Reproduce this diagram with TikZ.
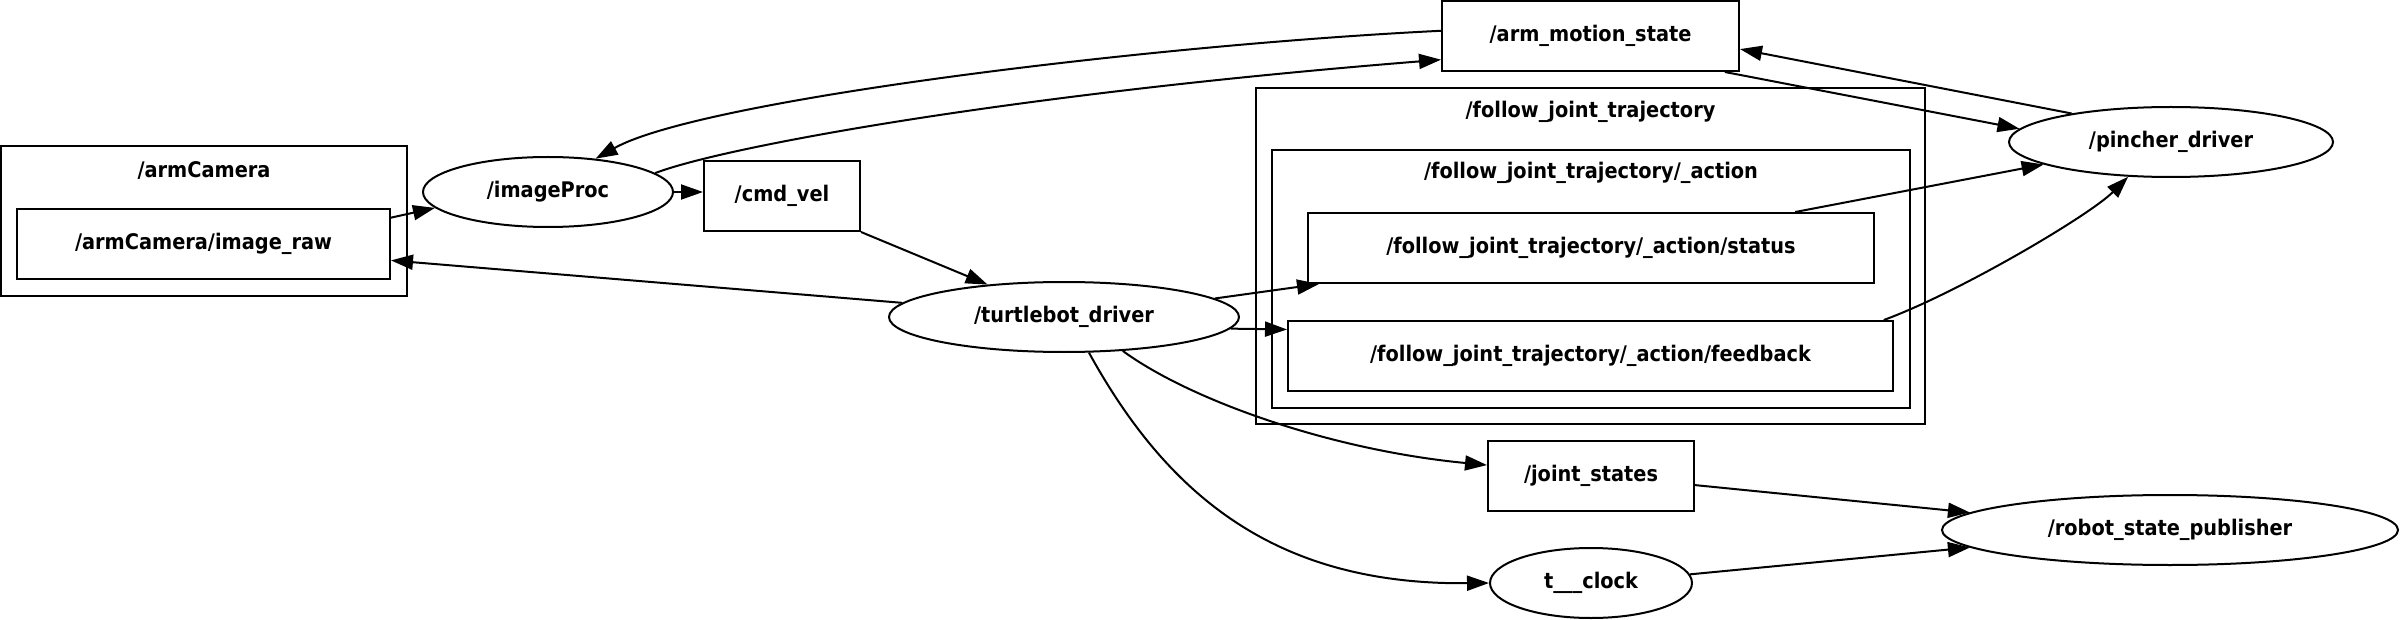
\documentclass[tikz,border=0pt]{standalone}
\usepackage{fontspec}
\setmainfont{DejaVu Sans Condensed}
\usetikzlibrary{shapes.geometric,arrows.meta,calc}
\tikzset{
  base/.style={draw=black, line width=2pt, inner sep=0pt, font=\fontsize{21.5}{25}\selectfont\bfseries},
  topic/.style={base, rectangle, minimum height=70pt},
  nodeel/.style={base, ellipse, minimum height=70pt},
  cluster/.style={draw=black, line width=2pt, rectangle, inner sep=0pt},
  clabel/.style={inner sep=0pt, font=\fontsize{21.5}{25}\selectfont\bfseries},
  edge/.style={draw=black, line width=2pt, -{Triangle[length=22pt,width=15pt]}}
}
\begin{document}
\begin{tikzpicture}[x=1pt,y=-1pt]
\useasboundingbox (0,0) rectangle (2400,620);
% clusters
\node[cluster, minimum width=406pt, minimum height=150pt] (camclu) at (204,221) {};
\node[clabel] (camlab) at (204,171) {/armCamera};
\node[cluster, minimum width=669pt, minimum height=336pt] (fjtclu) at (1590.5,256) {};
\node[clabel] (fjtlab) at (1590.5,112) {/follow\_joint\_trajectory};
\node[cluster, minimum width=638pt, minimum height=258pt] (actclu) at (1591,279) {};
\node[clabel] (actlab) at (1591,173) {/follow\_joint\_trajectory/\_action};
% nodes
\node[topic, minimum width=373pt] (imgraw) at (203.5,244) {/armCamera/image\_raw};
\node[nodeel, minimum width=250pt] (improc) at (548,192) {/imageProc};
\node[topic, minimum width=156pt] (cmdvel) at (782,196) {/cmd\_vel};
\node[topic, minimum width=297pt] (arm) at (1590.5,36) {/arm\_motion\_state};
\node[topic, minimum width=566pt] (status) at (1591,248) {/follow\_joint\_trajectory/\_action/status};
\node[topic, minimum width=605pt] (feedback) at (1590.5,356) {/follow\_joint\_trajectory/\_action/feedback};
\node[nodeel, minimum width=350pt] (turtle) at (1064,317) {/turtlebot\_driver};
\node[topic, minimum width=206pt] (joint) at (1591,476) {/joint\_states};
\node[nodeel, minimum width=202pt] (clock) at (1591,583) {t\_\_\_clock};
\node[nodeel, minimum width=324pt] (pincher) at (2171,142) {/pincher\_driver};
\node[nodeel, minimum width=456pt] (rsp) at (2170,530) {/robot\_state\_publisher};
% edges
\draw[edge] (arm.178) .. controls (1150,45) and (700,100) .. (improc.35);
\draw[edge] (improc.10) .. controls (720,148) and (1000,95) .. (arm.189);
\draw[edge] (arm.-15) -- (pincher.175);
\draw[edge] (pincher.164) -- (arm.-5);
\draw[edge] (status.10) -- (pincher.190);
\draw[edge] (feedback.7) .. controls (1960,292) and (2090,215) .. (pincher.219);
\draw[edge] (improc.east) -- (improc.east -| cmdvel.west);
\draw[edge] (imgraw.8.5) -- (improc.188);
\draw[edge] (turtle.175) -- (imgraw.-5.5);
\draw[edge] (cmdvel.south east) -- (turtle.157);
\draw[edge] (turtle.7.4) -- ($(status.south west)+(12,0)$);
\draw[edge] (turtle.-4) -- (feedback.175.6);
\draw[edge] (turtle.-30) .. controls (1190,400) and (1330,450) .. (joint.174);
\draw[edge] (turtle.-55) .. controls (1170,500) and (1280,585) .. (clock.west);
\draw[edge] (joint.-5) -- (rsp.175);
\draw[edge] (clock.5) -- (rsp.185);
\end{tikzpicture}
\end{document}
